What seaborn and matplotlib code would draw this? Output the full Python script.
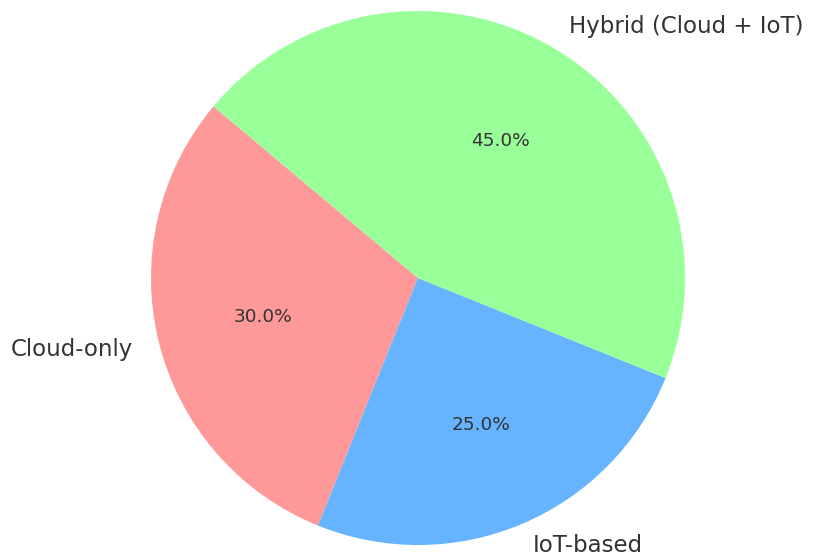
import matplotlib
matplotlib.use("Agg")
import matplotlib.pyplot as plt
import seaborn as sns

sns.set_theme(style="white")
plt.rcParams['font.family'] = ['DejaVu Sans']

categories = ["Cloud-only", "IoT-based", "Hybrid (Cloud + IoT)"]
shares = [30, 25, 45]
colors = ["#ff9999", "#66b3ff", "#99ff99"]

W, H = 813, 558
cx, cy, r = 418, 278, 267

fig = plt.figure(figsize=(W / 100, H / 100), dpi=100)
ax = fig.add_axes([0, 0, 1, 1])
wedges, texts, autotexts = ax.pie(
    shares, labels=categories, colors=colors, autopct="%1.1f%%",
    startangle=140, labeldistance=1.1, pctdistance=0.6,
    textprops={"fontsize": 16.5, "color": "#333333"},
    wedgeprops={"linewidth": 0, "edgecolor": "none"},
)
for t in autotexts:
    t.set_fontsize(13.3)
# keep the bottom label fully inside the canvas
x0, y0 = texts[1].get_position()
texts[1].set_position((x0, y0 + 3 / r))
ax.set_aspect("auto")
ax.set_xlim(-cx / r, (W - cx) / r)
ax.set_ylim(-(H - cy) / r, cy / r)
ax.axis("off")
fig.savefig("out.png", dpi=100, facecolor="white")
